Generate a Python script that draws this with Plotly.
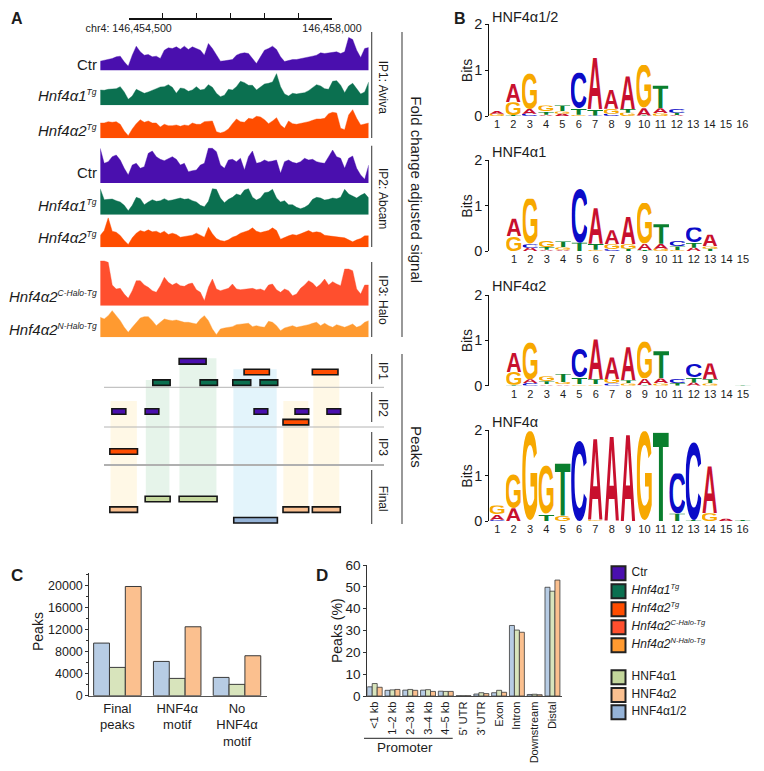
import base64
import numpy as np
import plotly.graph_objects as go

W, H = 764, 771
PAGE_OFFSET = 8  # the page body keeps its default margin
FONT = "Liberation Sans, Arial, sans-serif"
TXT = "#1c1c1c"


def sup_name(base, sup, size):
    return f"<i>{base}<sup><span style='font-size:{size}px'>{sup}</span></sup></i>"


# ---------- Panel A: signal tracks (values on a common arbitrary signal scale) ----------
ctr_ip1 = [28,30,33,36,41,43,26,13,46,73,56,46,48,41,43,36,61,68,66,71,64,73,63,71,66,61,46,81,66,46,28,29,30,33,46,51,53,51,36,21,41,61,66,73,63,41,27,31,33,33,35,39,39,43,46,53,51,53,53,56,51,56,99,93,61,39,66,69]
a1_ip1 = [46,45,48,48,50,56,40,18,28,48,42,36,40,44,50,55,56,62,54,36,52,50,42,46,56,46,48,62,54,36,26,30,48,46,56,72,68,60,60,46,56,64,66,70,95,56,34,28,36,34,36,38,44,52,62,58,50,48,72,74,60,38,58,66,50,34,40,70]
a2_ip1 = [46,46,50,48,50,42,22,8,28,44,56,48,52,46,46,34,42,38,38,40,36,40,38,46,42,42,50,52,52,20,16,20,28,44,58,50,48,60,58,66,64,56,44,52,62,40,30,52,44,42,44,46,50,54,58,58,60,74,78,76,30,26,70,86,60,40,42,46]
ctr_ip2 = [104,59,64,79,84,69,44,24,54,59,44,49,89,96,79,71,67,74,79,71,54,59,34,37,39,54,59,104,104,94,54,44,69,71,64,74,39,79,96,59,62,69,64,66,69,29,64,69,62,59,64,74,69,71,64,61,59,79,99,79,74,44,74,81,44,24,11,54]
a1_ip2 = [78,45,46,47,42,38,28,12,28,52,48,30,38,45,40,42,48,42,44,48,50,46,48,42,38,28,24,40,78,76,50,36,46,52,62,58,74,78,52,44,50,66,68,76,50,38,42,30,30,22,18,22,30,46,52,50,44,46,50,48,52,76,62,56,50,58,64,50]
a2_ip2 = [35,50,88,48,45,35,20,8,28,42,50,46,52,46,48,42,48,38,42,38,30,32,32,36,42,36,30,60,40,26,20,18,22,30,34,42,46,50,58,48,44,46,50,58,50,24,30,34,38,36,40,46,50,44,46,44,36,34,32,30,30,28,22,16,22,26,34,34]
c_halo = [134,134,130,62,50,52,35,22,45,75,75,62,55,45,40,60,85,70,62,68,60,58,65,68,48,40,15,55,80,50,45,48,52,65,50,48,50,52,52,48,50,45,62,65,48,40,50,45,30,35,52,62,75,68,55,65,80,62,72,65,60,110,110,105,50,35,62,62]
n_halo = [60,55,65,80,65,50,30,15,30,45,58,62,62,50,35,45,55,52,50,52,48,45,45,42,40,55,65,50,25,8,25,28,30,32,38,40,42,42,32,35,32,30,48,45,35,20,28,32,35,30,32,35,38,42,45,35,42,35,30,38,35,30,35,40,30,35,45,50]

track_values = [ctr_ip1, a1_ip1, a2_ip1, ctr_ip2, a1_ip2, a2_ip2, c_halo, n_halo]
C_CTR, C_A1, C_A2, C_CH, C_NH = "#4a0fae", "#0b7050", "#ff4d00", "#ff4f2e", "#ff9a30"
track_colors = [C_CTR, C_A1, C_A2, C_CTR, C_A1, C_A2, C_CH, C_NH]
track_base_px = [70.5, 105.3, 138.3, 183, 214.7, 247.2, 305.7, 337.3]
track_names = ["Ctr", sup_name("Hnf4α1", "Tg", 8.5), sup_name("Hnf4α2", "Tg", 8.5),
               "Ctr", sup_name("Hnf4α1", "Tg", 8.5), sup_name("Hnf4α2", "Tg", 8.5),
               sup_name("Hnf4α2", "C-Halo-Tg", 8.5), sup_name("Hnf4α2", "N-Halo-Tg", 8.5)]
track_label_px = [64, 95.7, 130, 172.7, 205, 237.3, 296.7, 329]

# Genome window, bp offset from 146,454,000
GEN_RANGE = [6, 4628]
scale_ticks = [500, 4000]
scale_minor = [1083, 1667, 2250, 2833, 3417]
scale_labels = ["chr4: 146,454,500", "146,458,000"]

# ---------- Panel A: peaks (bp offset, lane) ----------
bands_start = [184, 791, 1370, 2299, 3159, 3675]
bands_end = [637, 1198, 2007, 3044, 3589, 4122]
bands_top = [3.72, 1.75, -0.28, 0.75, 3.72, 1.13]
bands_bot = [13.6, 12.7, 12.7, 14.6, 13.6, 13.6]
bands_col = ["#fff8e6", "#e6f4ea", "#e6f4ea", "#e3f4fb", "#fff8e6", "#fff8e6"]

C_LG, C_PE, C_BL = "#c3d69b", "#fac090", "#95b3d7"
peak_ctr = ([1365, 207, 780, 2655, 3360, 3910], [1829, 447, 1015, 2890, 3595, 4145], [0, 4.7, 4.7, 4.7, 4.7, 4.7])
peak_a1 = ([912, 1726, 2288, 2758], [1210, 2024, 2597, 3062], [2, 2, 2, 2])
peak_a2 = ([2483, 3658, 3153, 172], [2918, 4099, 3595, 648], [1, 1, 5.7, 8.45])
peak_f1 = ([780, 1365], [1210, 2018], [12.9, 12.9])
peak_f2 = ([172, 3153, 3658], [648, 3595, 4139], [13.9, 13.9, 13.9])
peak_f12 = ([2305], [3056], [14.9])

# ---------- Panel B: motif logos, position -> stack bottom to top (letter, bits) ----------
logo_12 = [
 [("G",.05),("A",.06)], [("T",.02),("G",.28),("A",.40)], [("C",.05),("A",.10),("G",.78)],
 [("A",.03),("T",.07),("G",.13)], [("A",.05),("G",.05),("T",.13)], [("G",.03),("T",.14),("C",.78)],
 [("C",.01),("T",.14),("A",1.12)], [("C",.05),("G",.11),("A",.42)], [("G",.07),("T",.08),("A",.71)],
 [("T",.01),("A",.16),("G",.94)], [("G",.06),("A",.11),("T",.49)], [("A",.02),("T",.05),("C",.09)],
]
logo_1 = [
 [("G",.32),("A",.39)], [("A",.07),("C",.08),("G",1.0)], [("A",.03),("T",.06),("G",.14)],
 [("A",.03),("G",.05),("T",.13)], [("T",.18),("C",1.19)], [("G",.03),("T",.13),("A",.78)],
 [("C",.04),("G",.11),("A",.31)], [("T",.05),("G",.10),("A",.60)], [("T",.02),("A",.14),("G",.90)],
 [("G",.05),("A",.11),("T",.43)], [("G",.02),("T",.08),("C",.13)], [("A",.07),("T",.12),("C",.33)],
 [("T",.05),("G",.05),("A",.26)],
]
logo_2 = [
 [("T",.02),("G",.28),("A",.42)], [("C",.06),("A",.08),("G",.82)], [("A",.03),("T",.07),("G",.11)],
 [("A",.03),("G",.05),("T",.18)], [("G",.03),("T",.15),("C",.63)], [("G",.03),("T",.11),("A",.88)],
 [("C",.05),("G",.10),("A",.47)], [("G",.05),("T",.07),("A",.73)], [("T",.01),("A",.15),("G",.82)],
 [("G",.05),("A",.11),("T",.60)], [("T",.06),("C",.10)], [("A",.07),("T",.12),("C",.29)],
 [("G",.05),("T",.09),("A",.35)], [], [("T",.01)],
]
logo_a = [
 [("C",.03),("A",.12),("G",.19)], [("A",.28),("G",.76)], [("G",1.98)], [("T",.15),("G",1.08)],
 [("G",.12),("T",1.15)], [("C",1.78)], [("G",.02),("A",1.78)], [("A",1.85)], [("A",1.89)],
 [("G",1.98)], [("T",1.95)], [("T",.16),("C",.89)], [("T",.02),("C",1.72)], [("G",.17),("A",1.03)],
 [("A",.05)], [("T",.04)],
]
logo_titles = ["HNF4α1/2", "HNF4α1", "HNF4α2", "HNF4α"]
logo_sets = [logo_12, logo_1, logo_2, logo_a]
logo_ticks = [16, 15, 15, 16]
logo_zero_px = [116, 251, 385.7, 521]
logo_two_px = [24.3, 160.3, 295, 430.3]
logo_first_px = [497, 514, 514, 497.3]
logo_title_px = [17.3, 151.7, 286, 421.7]
LETTER_COL = {"A": "#c8102e", "C": "#0b0bc8", "G": "#f7a800", "T": "#0a7f2e"}
LETTER_BOX = {"A": "0 -688 722 688", "C": "45 -700 640 712", "G": "42 -700 700 712", "T": "20 -688 570 688"}

# ---------- Panel C ----------
c_groups = ["Final<br>peaks", "HNF4α<br>motif", "No<br>HNF4α<br>motif"]
c_a12 = [9520, 6200, 3310]
c_a1 = [5120, 3130, 2050]
c_a2 = [19760, 12470, 7230]
c_yticks = [0, 4000, 8000, 12000, 16000, 20000]
C_BAR_B, C_BAR_G, C_BAR_O = "#b7cce4", "#d8e4bc", "#fbc08f"

# ---------- Panel D ----------
d_cats = ["<1 kb", "1–2 kb", "2–3 kb", "3–4 kb", "4–5 kb", "5' UTR", "3' UTR", "Exon", "Intron", "Downstream", "Distal"]
d_a12 = [4.2, 2.6, 2.7, 2.7, 2.2, 0.1, 0.9, 1.5, 32.3, 0.7, 49.8]
d_a1 = [5.7, 2.8, 3.0, 2.9, 2.1, 0.1, 1.5, 2.6, 30.2, 0.8, 48.0]
d_a2 = [4.0, 3.0, 2.6, 2.1, 2.1, 0.1, 1.1, 1.7, 29.2, 0.6, 53.1]

# ---------- Legend ----------
leg_names = ["Ctr", sup_name("Hnf4α1", "Tg", 7.5), sup_name("Hnf4α2", "Tg", 7.5),
             sup_name("Hnf4α2", "C-Halo-Tg", 7.5), sup_name("Hnf4α2", "N-Halo-Tg", 7.5),
             "HNF4α1", "HNF4α2", "HNF4α1/2"]
leg_colors = [C_CTR, C_A1, C_A2, C_CH, C_NH, C_LG, C_PE, C_BL]
leg_rows = [0, 1, 2, 3, 4, 5.78, 6.76, 7.72]

FW, FH = W - PAGE_OFFSET, H - PAGE_OFFSET


def X(p): return (p - PAGE_OFFSET) / FW
def Y(p): return 1 - (p - PAGE_OFFSET) / FH

fig = go.Figure()
layout = {}
annos, shapes, images = [], [], []
axis_n = [0]


def add_axes(x0, x1, ytop, ybot, xr, yr, xopt=None, yopt=None):
    axis_n[0] += 1
    n = axis_n[0]
    xa = dict(domain=[X(x0), X(x1)], range=xr, anchor=f"y{n}", fixedrange=True, showgrid=False, zeroline=False, automargin=False)
    ya = dict(domain=[Y(ybot), Y(ytop)], range=yr, anchor=f"x{n}", fixedrange=True, showgrid=False, zeroline=False, automargin=False)
    xa.update(xopt if xopt is not None else dict(visible=False))
    ya.update(yopt if yopt is not None else dict(visible=False))
    layout[f"xaxis{n}"] = xa
    layout[f"yaxis{n}"] = ya
    return f"x{n}", f"y{n}"


def text(x, y, s, size=12, xanchor="center", yanchor="middle", angle=0, bold=False):
    annos.append(dict(x=X(x), y=Y(y), xref="paper", yref="paper", text=f"<b>{s}</b>" if bold else s,
                      showarrow=False, xanchor=xanchor, yanchor=yanchor, textangle=angle,
                      font=dict(family=FONT, size=size, color=TXT), borderpad=0, borderwidth=0))


def line(x0, y0, x1, y1, color="#333333", width=1):
    shapes.append(dict(type="line", xref="paper", yref="paper", x0=X(x0), y0=Y(y0), x1=X(x1), y1=Y(y1),
                       line=dict(color=color, width=width)))


# --- tracks
for vals, col, base, name, lab in zip(track_values, track_colors, track_base_px, track_names, track_label_px):
    xa, ya = add_axes(100.2, 368.7, base - 46, base, GEN_RANGE, [0, 138])
    fig.add_trace(go.Scatter(x=np.linspace(GEN_RANGE[0], GEN_RANGE[1], len(vals)), y=vals, mode="lines",
                             fill="tozeroy", fillcolor=col, line=dict(color=col, width=0.4),
                             xaxis=xa, yaxis=ya, hoverinfo="skip", showlegend=False))
    text(97, lab, name, size=15, xanchor="right")

# --- scale bar as a real genomic axis
xa, ya = add_axes(128.7, 332, 8, 18.3, [scale_ticks[0], scale_ticks[-1]], [0, 1],
                  xopt=dict(visible=True, showline=True, linecolor="#111111", linewidth=1.3, ticks="inside",
                            ticklen=5, tickwidth=1.2, tickcolor="#111111", tickmode="array", tickvals=scale_ticks,
                            ticktext=scale_labels, tickangle=0, tickfont=dict(family=FONT, size=10.7, color=TXT),
                            minor=dict(tickvals=scale_minor, ticks="inside", ticklen=5, tickwidth=1.2, tickcolor="#111111")))
fig.add_trace(go.Scatter(x=scale_ticks, y=[0, 0], mode="markers", marker=dict(opacity=0), xaxis=xa, yaxis=ya,
                         hoverinfo="skip", showlegend=False))

# --- peaks
xa, ya = add_axes(100.2, 368.7, 350, 530, GEN_RANGE, [15.81, -1.06])
fig.add_trace(go.Bar(orientation="h", y=[(t + b) / 2 for t, b in zip(bands_top, bands_bot)],
                     x=[e - s for s, e in zip(bands_start, bands_end)], base=bands_start,
                     width=[b - t for t, b in zip(bands_top, bands_bot)],
                     marker=dict(color=bands_col, line=dict(width=0)), xaxis=xa, yaxis=ya,
                     hoverinfo="skip", showlegend=False))
for (st, en, la), col in [(peak_ctr, C_CTR), (peak_a1, C_A1), (peak_a2, C_A2), (peak_f1, C_LG), (peak_f2, C_PE), (peak_f12, C_BL)]:
    fig.add_trace(go.Bar(orientation="h", y=la, x=[e - s for s, e in zip(st, en)], base=st, width=0.52,
                         marker=dict(color=col, line=dict(color="#151515", width=1.6)), xaxis=xa, yaxis=ya,
                         hoverinfo="skip", showlegend=False))

for y, w, c in [(387.3, 1, "#b4b4b4"), (427, 1, "#b4b4b4"), (465, 2.2, "#b0b0b0")]:
    line(104, y, 384, y, c, w)
for x, y0, y1 in [(371.7, 32, 138), (371.7, 145.7, 247), (371.7, 262, 337), (371.7, 354, 384), (371.7, 392, 422),
                  (371.7, 432, 462), (371.7, 470, 524), (402, 32, 337), (402, 354, 524)]:
    line(x, y0, x, y1, "#444444", 1.1)
for y, s in [(86.7, "IP1: Aviva"), (198, "IP2: Abcam"), (300.3, "IP3: Halo"), (371, "IP1"), (408, "IP2"), (447, "IP3"), (498.7, "Final")]:
    text(383, y, s, size=12, angle=90)
text(416.7, 190, "Fold change adjusted signal", size=15, angle=90)
text(416.7, 446.7, "Peaks", size=15, angle=90)

# --- logos
svg_src = {}
for L in "ACGT":
    svg = (f'<svg xmlns="http://www.w3.org/2000/svg" width="700" height="700" viewBox="{LETTER_BOX[L]}" '
           f'preserveAspectRatio="none"><text x="0" y="0" font-family="Liberation Sans" font-weight="bold" '
           f'font-size="1000" fill="{LETTER_COL[L]}">{L}</text></svg>')
    svg_src[L] = "data:image/svg+xml;base64," + base64.b64encode(svg.encode()).decode()

STEP = 16.35
for logo, nt, z, t, first, title, tpx in zip(logo_sets, logo_ticks, logo_zero_px, logo_two_px, logo_first_px, logo_titles, logo_title_px):
    xr = [1 + (489.3 - first) / STEP, 1 + (758 - first) / STEP]
    tick = list(range(1, nt + 1))
    xa, ya = add_axes(489.3, 758, t, z, xr, [0, 2],
                      xopt=dict(visible=True, showline=False, ticks="", tickmode="array", tickvals=tick,
                                ticktext=[str(i) for i in tick], tickangle=0,
                                tickfont=dict(family=FONT, size=11, color=TXT)),
                      yopt=dict(visible=True, showline=True, linecolor="#111111", linewidth=1, ticks="outside",
                                ticklen=3, tickwidth=1, tickcolor="#111111", tickmode="array", tickvals=[0, 1, 2],
                                ticktext=["0", "1", "2"], tickfont=dict(family=FONT, size=14.5, color=TXT)))
    fig.add_trace(go.Scatter(x=list(range(1, len(logo) + 1)), y=[sum(h for _, h in s) for s in logo], mode="markers",
                             marker=dict(opacity=0), xaxis=xa, yaxis=ya, hoverinfo="skip", showlegend=False))
    for i, stack in enumerate(logo):
        base = 0
        for L, h in stack:
            images.append(dict(source=svg_src[L], xref=xa, yref=ya, x=i + 1 - 0.48, y=base + h, sizex=0.96, sizey=h,
                               sizing="stretch", xanchor="left", yanchor="top", layer="above"))
            base += h
    text(467, (z + t) / 2 + 0.0, "Bits", size=14, angle=-90)
    text(491.5, tpx, title, size=14.5, xanchor="left")

# --- panel C
xa, ya = add_axes(89.3, 266.7, 573, 695.7, [-0.47, 2.497], [0, 22200],
                  xopt=dict(visible=True, showline=True, linecolor="#555555", linewidth=1.2, ticks="", tickmode="array",
                            tickvals=[0, 1, 2], ticktext=c_groups, tickangle=0,
                            tickfont=dict(family=FONT, size=13, color=TXT)),
                  yopt=dict(visible=True, showline=True, linecolor="#333333", linewidth=1, ticks="outside", ticklen=3,
                            tickwidth=1, tickcolor="#333333", tickmode="array", tickvals=c_yticks,
                            ticktext=[str(v) for v in c_yticks],
                            tickfont=dict(family=FONT, size=12.5, color=TXT),
                            minor=dict(tickvals=[2000, 6000, 10000, 14000, 18000, 22000], ticks="outside", ticklen=2, tickcolor="#333333")))
BW = 0.265
for k, (vals, col) in enumerate([(c_a12, C_BAR_B), (c_a1, C_BAR_G), (c_a2, C_BAR_O)]):
    fig.add_trace(go.Bar(x=[0, 1, 2], y=vals, width=BW, offset=(k - 1.5) * BW,
                         marker=dict(color=col, line=dict(color="#3a3a3a", width=1)), xaxis=xa, yaxis=ya,
                         hoverinfo="skip", showlegend=False))
text(38, 632, "Peaks", size=14, angle=-90)

# --- panel D
pos = list(range(len(d_cats)))
xa, ya = add_axes(367.3, 561.7, 565, 696, [-0.417, 10.52], [0, 60],
                  xopt=dict(visible=True, showline=True, linecolor="#444444", linewidth=1.2, ticks="", tickmode="array",
                            tickvals=pos, ticktext=d_cats, tickangle=-90,
                            tickfont=dict(family=FONT, size=11, color=TXT)),
                  yopt=dict(visible=True, showline=True, linecolor="#333333", linewidth=1, ticks="outside", ticklen=3,
                            tickwidth=1, tickcolor="#333333", tickmode="array", tickvals=[0, 10, 20, 30, 40, 50, 60],
                            tickfont=dict(family=FONT, size=13.5, color=TXT)))
BD = 0.28
for k, (vals, col) in enumerate([(d_a12, C_BAR_B), (d_a1, C_BAR_G), (d_a2, C_BAR_O)]):
    fig.add_trace(go.Bar(x=pos, y=vals, width=BD, offset=(k - 1.5) * BD,
                         marker=dict(color=col, line=dict(color="#3a3a3a", width=0.8)), xaxis=xa, yaxis=ya,
                         hoverinfo="skip", showlegend=False))
text(337, 631, "Peaks (%)", size=14, angle=-90)
line(364, 738.3, 452.7, 738.3, "#222222", 1)
text(405, 747.5, "Promoter", size=13.5)

# --- legend
xa, ya = add_axes(600, 760, 564.3, 721.3, [0, 160], [8.22, -0.5])
fig.add_trace(go.Scatter(x=[18.5] * len(leg_rows), y=leg_rows, mode="markers+text",
                         text=["\u00a0" + n for n in leg_names],
                         textposition="middle right", textfont=dict(family=FONT, size=12, color=TXT),
                         marker=dict(symbol="square", size=14, color=leg_colors, line=dict(color="#222222", width=2)),
                         xaxis=xa, yaxis=ya, cliponaxis=False, hoverinfo="skip", showlegend=False))

# --- panel letters
text(17, 18.5, "A", size=16, bold=True)
text(460, 18.5, "B", size=16, bold=True)
text(17, 575, "C", size=17, bold=True)
text(322, 575, "D", size=17, bold=True)

fig.update_layout(**layout)
fig.update_layout(template="none", width=FW, height=FH, margin=dict(l=0, r=0, t=0, b=0, autoexpand=False), autosize=False,
                  paper_bgcolor="white", plot_bgcolor="rgba(0,0,0,0)", barmode="overlay", showlegend=False,
                  annotations=annos, shapes=shapes, images=images, font=dict(family=FONT, color=TXT))
fig.write_html("out.html", config=dict(displayModeBar=False, staticPlot=True))
